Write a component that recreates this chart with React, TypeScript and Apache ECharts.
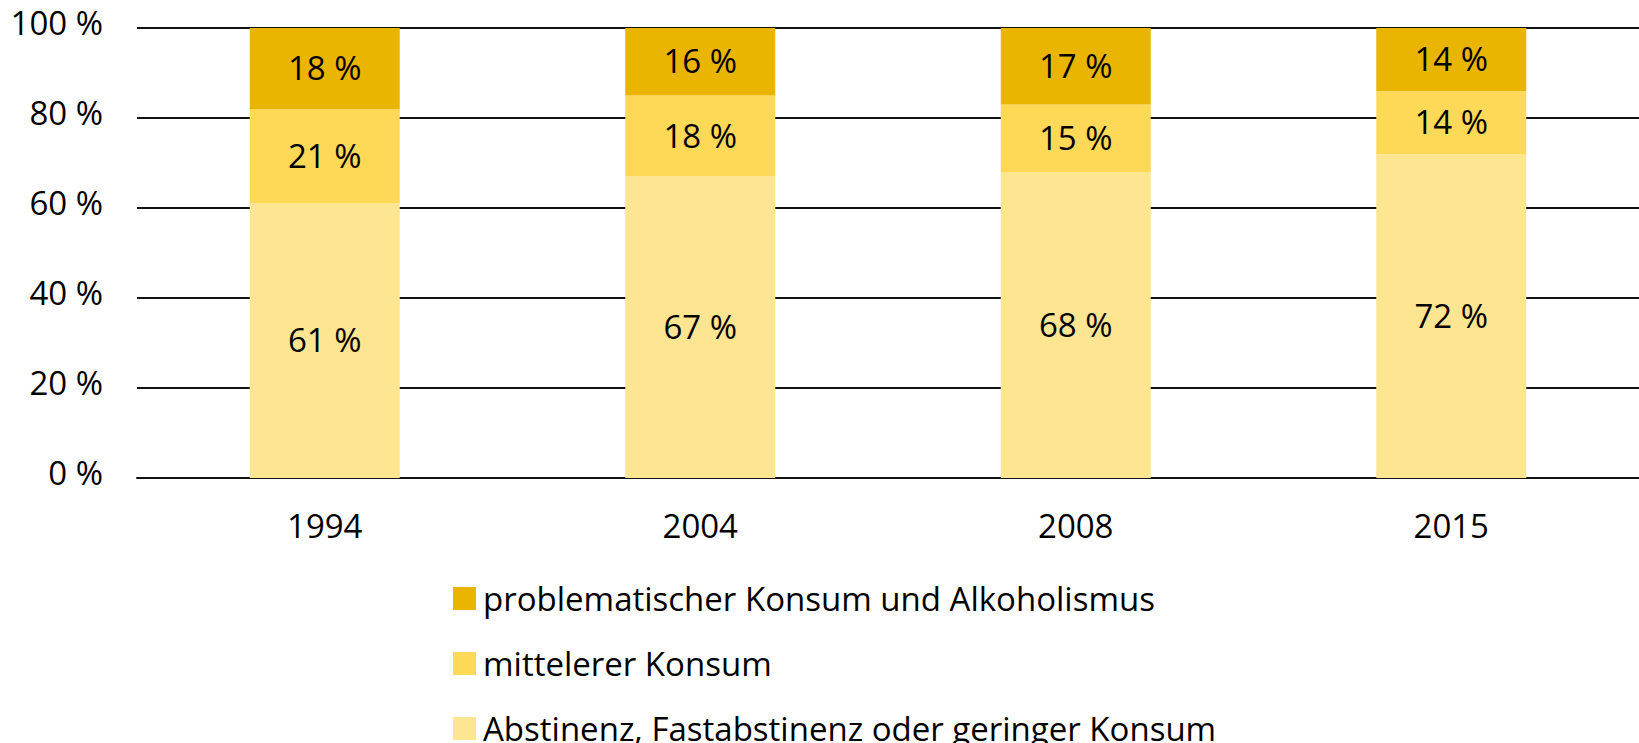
import React, { useEffect, useRef } from "react";
import * as echarts from "echarts";

const years = ["1994", "2004", "2008", "2015"];
const seriesNames = [
  "problematischer Konsum und Alkoholismus",
  "mittelerer Konsum",
  "Abstinenz, Fastabstinenz oder geringer Konsum",
];
const abstinenz = [61, 67, 68, 72];
const mittel = [21, 18, 15, 14];
const problematisch = [18, 16, 17, 14];
const yTicks = [0, 20, 40, 60, 80, 100];

const colors = {
  problematisch: "#E9B500",
  mittel: "#FED857",
  abstinenz: "#FEE591",
};

const FONT = "'Open Sans', sans-serif";
const FS = 33;

export default function App() {
  const ref = useRef<HTMLDivElement>(null);
  useEffect(() => {
    if (!ref.current) return;
    const chart = echarts.init(ref.current, undefined, { renderer: "svg" });
    const label = {
      show: true,
      position: "inside",
      color: "#000",
      fontSize: FS,
      fontFamily: FONT,
      offset: [0, -1],
      formatter: (p: any) => `${p.value} %`,
    };
    const mk = (name: string, data: number[], color: string) => ({
      name,
      type: "bar",
      stack: "total",
      data,
      barWidth: 150,
      itemStyle: { color },
      label,
      clip: true,
    });
    const legendTop = [577, 642, 707];
    chart.setOption({
      animation: false,
      textStyle: { fontFamily: FONT },
      grid: { left: 137, right: -8, top: 28, bottom: 743 - 478, containLabel: false },
      xAxis: {
        type: "category",
        data: years,
        axisLine: { show: true, lineStyle: { color: "#111", width: 2 } },
        axisTick: { show: false },
        axisLabel: { color: "#000", fontSize: FS, fontFamily: FONT, margin: 31 },
      },
      yAxis: {
        type: "value",
        min: yTicks[0],
        max: yTicks[yTicks.length - 1],
        interval: 20,
        axisLine: { show: false },
        axisTick: { show: false },
        splitLine: { lineStyle: { color: "#111", width: 2 } },
        axisLabel: {
          color: "#000",
          fontSize: FS,
          fontFamily: FONT,
          margin: 34,
          verticalAlign: "bottom",
          lineHeight: 12,
          formatter: (v: number) => `${v} %`,
        },
      },
      legend: seriesNames.map((n, i) => ({
        orient: "vertical",
        left: 448,
        top: legendTop[i],
        itemWidth: 23,
        itemHeight: 23,
        icon: "rect",
        textStyle: { color: "#000", fontSize: FS, fontFamily: FONT, lineHeight: 32, padding: [0, 0, 0, 2] },
        data: [n],
      })),
      series: [
        mk(seriesNames[2], abstinenz, colors.abstinenz),
        mk(seriesNames[1], mittel, colors.mittel),
        mk(seriesNames[0], problematisch, colors.problematisch),
      ],
    });
    return () => chart.dispose();
  }, []);
  return (
    <div
      ref={ref}
      style={{ position: "fixed", left: 0, top: 0, width: 1639, height: 743, background: "#fff" }}
    />
  );
}
